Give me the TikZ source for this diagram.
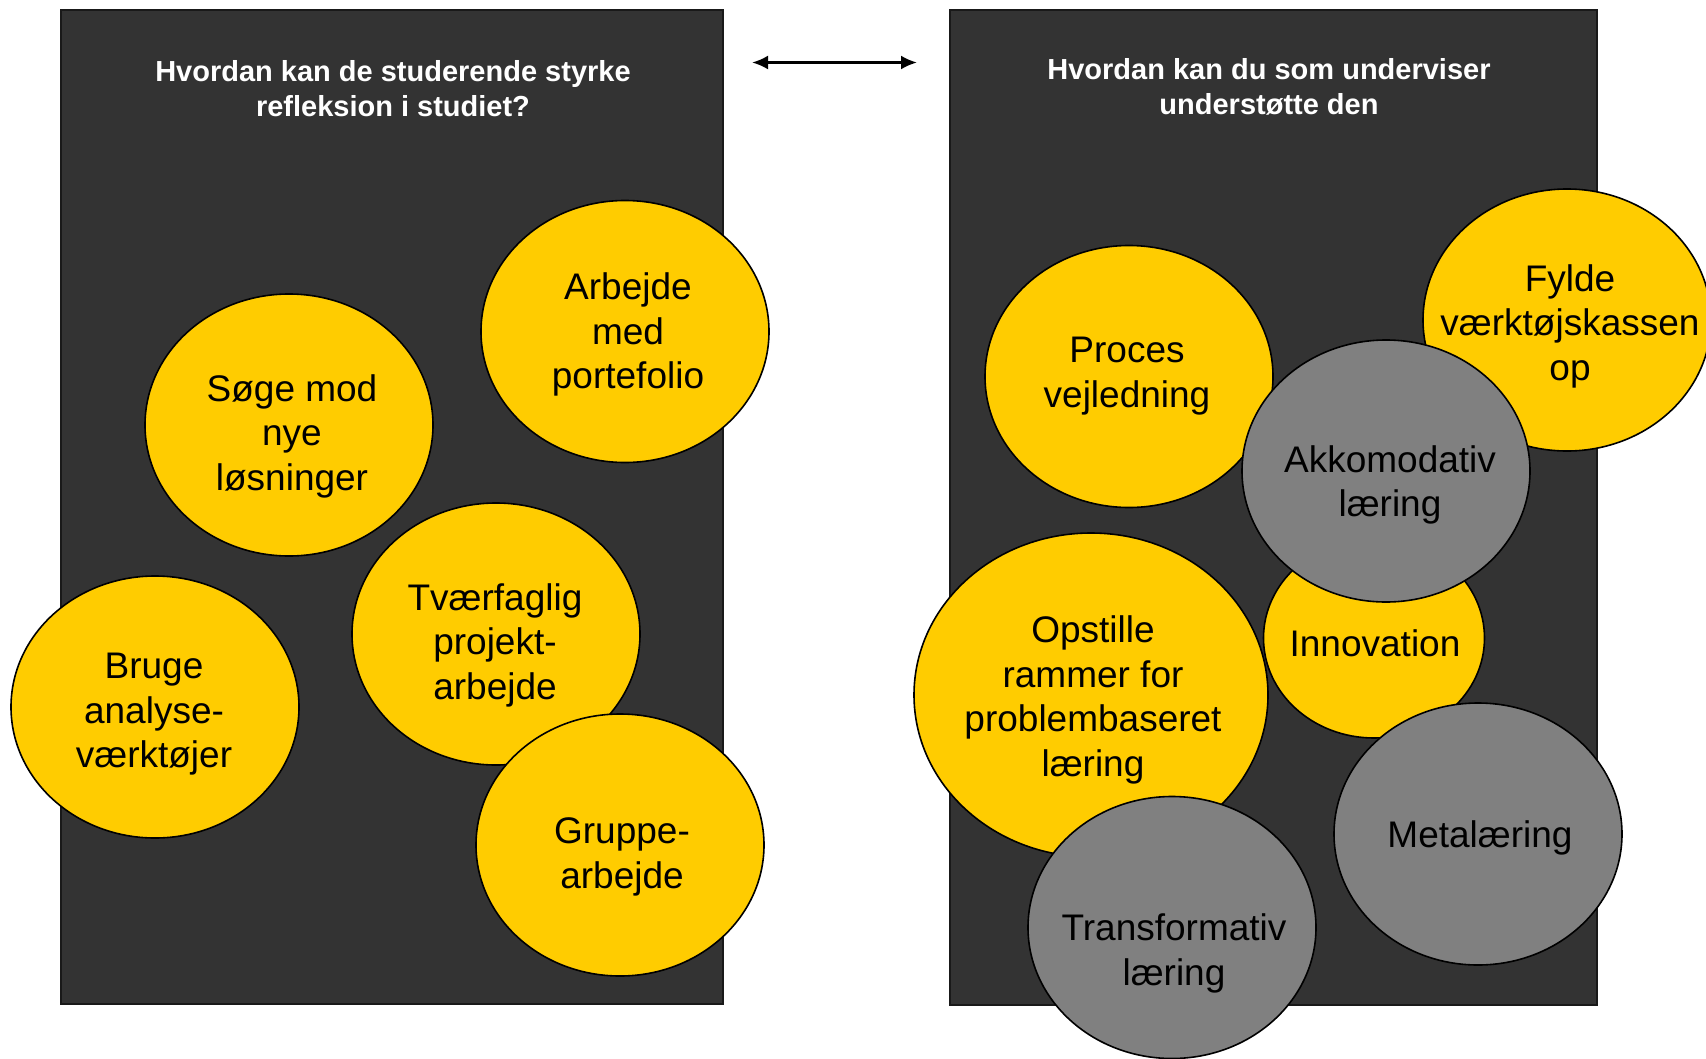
\documentclass[tikz,border=0pt]{standalone}
\usepackage{fontspec}
\setmainfont{Liberation Sans}
\usetikzlibrary{shapes.geometric,arrows.meta}
\definecolor{panelgray}{HTML}{333333}
\definecolor{ballyellow}{HTML}{FFCC00}
\definecolor{ballgray}{HTML}{808080}
\tikzset{
  panel/.style={draw=black!90, line width=1.5pt, fill=panelgray},
  paneltitle/.style={text=white, align=center, font=\fontsize{29}{35}\selectfont\bfseries, inner sep=0pt},
  ball/.style={shape=ellipse, draw=black, line width=1.6pt, inner sep=0pt, minimum width=288pt, minimum height=262pt},
  yball/.style={ball, fill=ballyellow},
  gball/.style={ball, fill=ballgray},
  balltext/.style={align=center, font=\fontsize{37}{44.5}\selectfont, text=black, inner sep=0pt},
  linkarrow/.style={line width=2.5pt, {Latex[length=16pt,width=14pt]}-{Latex[length=16pt,width=14pt]}}
}
\begin{document}
\begin{tikzpicture}[x=1pt,y=-1pt]
\useasboundingbox (0,0) rectangle (1706,1058);
% panels
\node[panel, minimum width=662pt, minimum height=994pt, inner sep=0pt, anchor=north west] (lp) at (60,9) {};
\node[panel, minimum width=647pt, minimum height=995pt, inner sep=0pt, anchor=north west] (rp) at (949,9) {};
\node[paneltitle] (lt) at (393,89) {Hvordan kan de studerende styrke\\refleksion i studiet?};
\node[paneltitle] (rt) at (1269,86.5) {Hvordan kan du som underviser\\understøtte den};
% arrow
\coordinate (al) at (752,62.5);
\coordinate (ar) at (917,62.5);
\draw[linkarrow] (al) -- (ar);
% left panel balls
\node[yball] (arb) at (625,331.5) {};
\node[balltext] (arbt) at ([xshift=3pt,yshift=-3pt]arb.center) {Arbejde\\med\\portefolio};
\node[yball] (soge) at (289,425) {};
\node[balltext] (soget) at ([xshift=3pt,yshift=-11pt]soge.center) {Søge mod\\nye\\løsninger};
\node[yball] (tvf) at (496,634) {};
\node[balltext] (tvft) at ([xshift=-1pt,yshift=-11pt]tvf.center) {Tværfaglig\\projekt-\\arbejde};
\node[yball] (bru) at (155,707) {};
\node[balltext] (brut) at ([xshift=-1pt,yshift=-7.5pt]bru.center) {Bruge\\analyse-\\værktøjer};
\node[yball] (grp) at (620,845) {};
\node[balltext] (grpt) at ([xshift=2pt,yshift=-12pt]grp.center) {Gruppe-\\arbejde};
% right panel balls
\node[yball] (proc) at (1129,376.5) {};
\node[balltext] (proct) at ([xshift=-2pt,yshift=0.5pt]proc.center) {Proces\\vejledning};
\node[yball] (fyl) at (1567,320) {};
\node[balltext] (fylt) at ([xshift=3pt,yshift=-6pt]fyl.center) {Fylde\\værktøjskassen\\op};
\node[yball, minimum width=354pt, minimum height=324pt] (ops) at (1091,695) {};
\node[balltext] (opst) at ([xshift=2pt,yshift=-5pt]ops.center) {Opstille\\rammer for\\problembaseret\\læring};
\node[yball, minimum width=221pt, minimum height=200pt] (inn) at (1374,638) {};
\node[balltext] (innt) at ([yshift=-5pt,xshift=1pt]inn.center) {Innovation};
\node[gball] (akk) at (1386,471) {};
\node[balltext] (akkt) at ([xshift=4pt,yshift=-14pt]akk.center) {Akkomodativ\\læring};
\node[gball] (met) at (1478,834) {};
\node[balltext] (mett) at ([xshift=2pt,yshift=-4pt]met.center) {Metalæring};
\node[gball] (trf) at (1172,927.5) {};
\node[balltext] (trft) at ([xshift=2pt,yshift=-26pt]trf.center) {Transformativ\\læring};
\end{tikzpicture}
\end{document}
